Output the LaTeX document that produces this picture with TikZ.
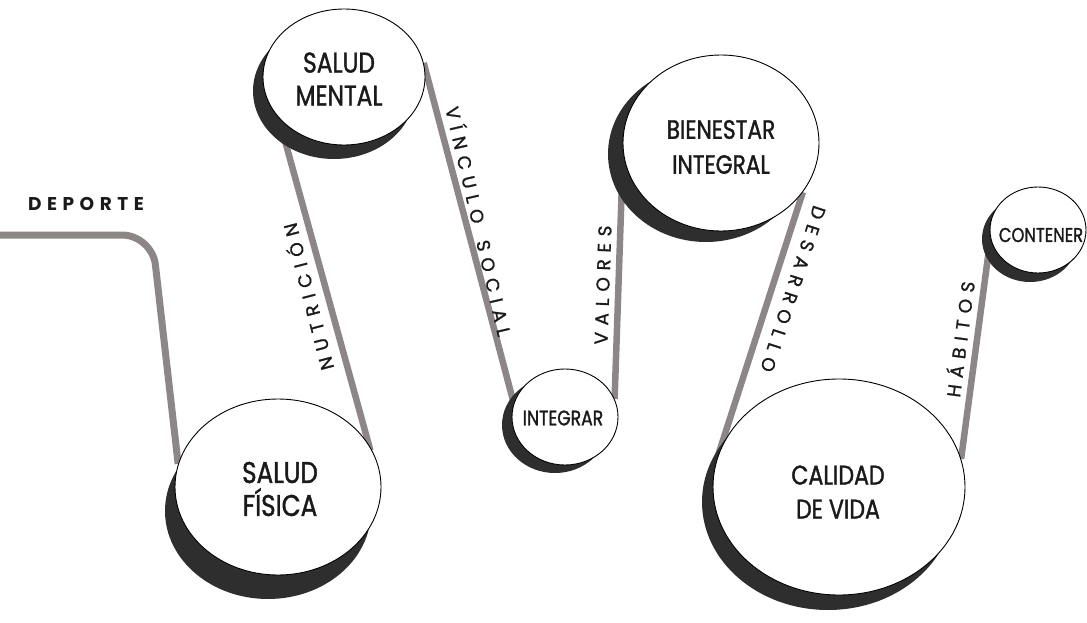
\documentclass[tikz,border=0pt]{standalone}
\usepackage{fontspec}
\setmainfont{Poppins}
\newfontfamily\circfont[FakeStretch=0.82,FakeBold=1.3]{Poppins}
\newfontfamily\lblfont[LetterSpace=36,FakeBold=1.2]{Poppins}
\newfontfamily\depfont[LetterSpace=30]{Poppins}
\usetikzlibrary{shapes.geometric,calc}
\definecolor{shadowc}{HTML}{2E2E2E}
\definecolor{linec}{HTML}{8C8786}
\definecolor{textc}{HTML}{1A1A1A}
\pgfdeclarelayer{lines}
\pgfdeclarelayer{shadows}
\pgfsetlayers{lines,shadows,main}
\begin{document}
\begin{tikzpicture}[x=1pt,y=-1pt,
  bubble/.style={ellipse, draw=black, line width=0.9pt, fill=white, inner sep=0pt},
  shadebub/.style={ellipse, fill=shadowc, inner sep=0pt},
  conn/.style={draw=linec, line width=6.5pt},
  ctext/.style={align=center, text=textc, inner sep=0pt},
  lbl/.style={text=textc, inner sep=0pt, font=\lblfont\fontsize{18.5}{18.5}\selectfont},
  deplbl/.style={text=textc, inner sep=0pt, font=\depfont\bfseries\fontsize{18.5}{18.5}\selectfont}]
\useasboundingbox (0,0) rectangle (1087,623);

% bubbles
\node[bubble, minimum width=206pt, minimum height=176pt] (fisica) at (278,487) {};
\node[bubble, minimum width=162pt, minimum height=136pt] (mental) at (344,77) {};
\node[bubble, minimum width=106pt, minimum height=96pt] (integrar) at (565,417) {};
\node[bubble, minimum width=196pt, minimum height=176pt] (bienestar) at (721,143) {};
\node[bubble, minimum width=252pt, minimum height=216pt] (calidad) at (839,487) {};
\node[bubble, minimum width=96pt, minimum height=86pt] (contener) at (1038,230) {};

% texts in bubbles
\node[ctext, font=\circfont\fontsize{30}{33}\selectfont] (tfisica) at (280,489) {SALUD\\FÍSICA};
\node[ctext, font=\circfont\fontsize{28.5}{33}\selectfont] (tmental) at (339,79) {SALUD\\MENTAL};
\node[ctext, font=\circfont\fontsize{21}{24}\selectfont] (tintegrar) at (563,418) {INTEGRAR};
\node[ctext, font=\circfont\fontsize{26.5}{35}\selectfont] (tbienestar) at (721,147) {BIENESTAR\\INTEGRAL};
\node[ctext, font=\circfont\fontsize{27}{34}\selectfont] (tcalidad) at (838,492) {CALIDAD\\DE VIDA};
\node[ctext, font=\circfont\fontsize{20}{22}\selectfont] (tcontener) at (1041,235) {CONTENER};

% shadows
\begin{pgfonlayer}{shadows}
\node[shadebub, minimum width=206pt, minimum height=176pt] (sfisica) at ($(fisica)+(-10,24)$) {};
\node[shadebub, minimum width=162pt, minimum height=136pt] (smental) at ($(mental)+(-10,14)$) {};
\node[shadebub, minimum width=106pt, minimum height=96pt] (sintegrar) at ($(integrar)+(-10,8)$) {};
\node[shadebub, minimum width=196pt, minimum height=176pt] (sbienestar) at ($(bienestar)+(-15,11)$) {};
\node[shadebub, minimum width=252pt, minimum height=216pt] (scalidad) at ($(calidad)+(-11,15)$) {};
\node[shadebub, minimum width=96pt, minimum height=86pt] (scontener) at ($(contener)+(-8,9)$) {};
\end{pgfonlayer}

% connectors
\begin{pgfonlayer}{lines}
\coordinate (dstart) at (-5,235);
\coordinate (dcorner) at (152,235);
\draw[conn, line width=7pt, rounded corners=30pt] (dstart) -- (dcorner) -- (fisica.167);
\draw[conn, shorten <=-6pt] (fisica.25) -- (mental.212);
\draw[conn] (mental.10) -- (integrar.165);
\draw[conn] (integrar.20) -- (bienestar.185);
\draw[conn] (bienestar.-31) -- (calidad.165);
\draw[conn] (calidad.13) -- (contener.190);
\end{pgfonlayer}

% connector labels
\node[deplbl] (ldep) at (86,204) {DEPORTE};
\node[lbl, rotate=104.6] (lnutri) at (307,297) {NUTRICIÓN};
\node[lbl, rotate=-77] (lvinc) at (480,221) {VÍNCULO\hspace{6pt} SOCIAL};
\node[lbl, rotate=88] (lval) at (603,285) {VALORES};
\node[lbl, rotate=-108] (ldes) at (793,289) {DESARROLLO};
\node[lbl, rotate=82.6] (lhab) at (959,339) {HÁBITOS};
\end{tikzpicture}
\end{document}
